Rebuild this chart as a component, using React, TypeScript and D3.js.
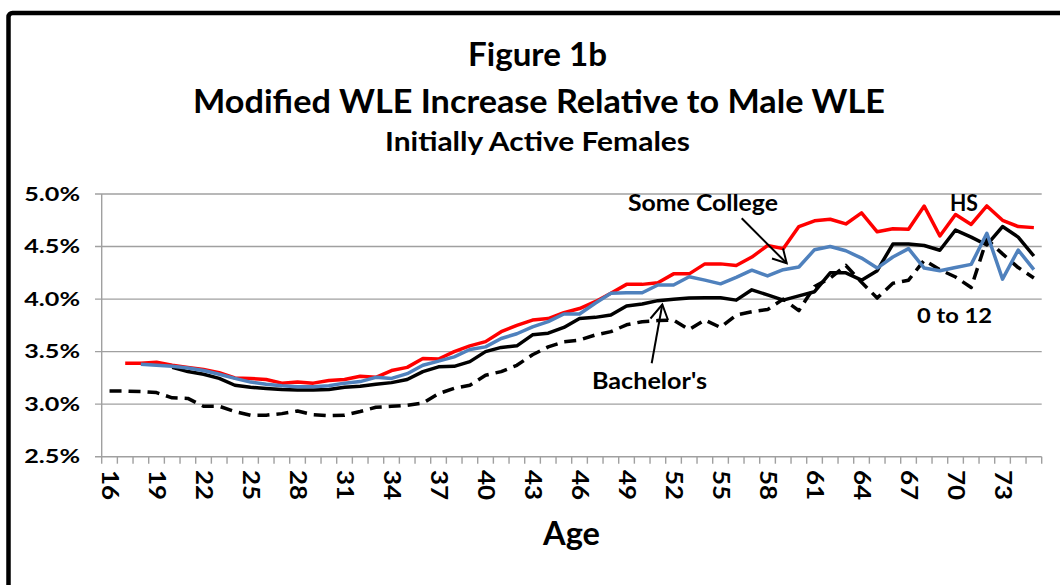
import React from 'react';
import * as d3 from 'd3';

// ages 16..75, one category each
const ages = [
  16, 17, 18, 19, 20, 21, 22, 23, 24, 25, 26, 27, 28, 29, 30, 31, 32, 33, 34, 35,
  36, 37, 38, 39, 40, 41, 42, 43, 44, 45, 46, 47, 48, 49, 50, 51, 52, 53, 54, 55,
  56, 57, 58, 59, 60, 61, 62, 63, 64, 65, 66, 67, 68, 69, 70, 71, 72, 73, 74, 75,
];

// percent values, null where the series has no point
const hsValues = [
  null, 3.39, 3.39, 3.40, 3.37, 3.35, 3.33, 3.30, 3.25, 3.245, 3.235, 3.20, 3.21, 3.20, 3.225, 3.235, 3.265, 3.255, 3.32, 3.35,
  3.435, 3.43, 3.50, 3.555, 3.595, 3.69, 3.75, 3.80, 3.815, 3.87, 3.91, 3.975, 4.055, 4.14, 4.14, 4.155, 4.24, 4.24, 4.335, 4.335,
  4.32, 4.40, 4.51, 4.48, 4.69, 4.745, 4.76, 4.715, 4.82, 4.64, 4.67, 4.665, 4.885, 4.60, 4.805, 4.71, 4.886, 4.75, 4.69, 4.68,
];

const someCollegeValues = [
  null, null, 3.38, 3.37, 3.36, 3.345, 3.32, 3.285, 3.245, 3.21, 3.19, 3.175, 3.165, 3.165, 3.175, 3.20, 3.215, 3.255, 3.245, 3.29,
  3.37, 3.41, 3.45, 3.52, 3.545, 3.625, 3.67, 3.735, 3.785, 3.858, 3.858, 3.96, 4.055, 4.06, 4.06, 4.134, 4.134, 4.213, 4.18, 4.145,
  4.207, 4.275, 4.22, 4.28, 4.305, 4.47, 4.50, 4.46, 4.39, 4.295, 4.40, 4.48, 4.295, 4.27, 4.30, 4.33, 4.626, 4.19, 4.467, 4.28,
];

const bachelorsValues = [
  null, null, null, null, 3.35, 3.31, 3.285, 3.245, 3.18, 3.16, 3.15, 3.14, 3.135, 3.135, 3.14, 3.16, 3.17, 3.19, 3.205, 3.235,
  3.31, 3.355, 3.36, 3.405, 3.50, 3.54, 3.555, 3.66, 3.675, 3.73, 3.815, 3.826, 3.848, 3.934, 3.953, 3.985, 3.998, 4.01, 4.012, 4.012,
  3.99, 4.088, 4.04, 3.99, 4.03, 4.07, 4.25, 4.25, 4.18, 4.27, 4.524, 4.525, 4.51, 4.465, 4.657, 4.59, 4.515, 4.69, 4.59, 4.41,
];

const zeroTo12Values = [
  3.125, 3.125, 3.12, 3.11, 3.06, 3.055, 2.98, 2.98, 2.93, 2.895, 2.895, 2.91, 2.935, 2.90, 2.89, 2.895, 2.93, 2.97, 2.98, 2.99,
  3.01, 3.10, 3.15, 3.18, 3.275, 3.31, 3.37, 3.47, 3.545, 3.594, 3.61, 3.658, 3.69, 3.755, 3.785, 3.795, 3.80, 3.71, 3.80, 3.73,
  3.848, 3.88, 3.90, 4.00, 3.89, 4.12, 4.20, 4.32, 4.16, 4.01, 4.15, 4.18, 4.37, 4.28, 4.21, 4.11, 4.57, 4.43, 4.30, 4.20,
];

const yTicks = [2.5, 3.0, 3.5, 4.0, 4.5, 5.0];
const xTickLabels = [16, 19, 22, 25, 28, 31, 34, 37, 40, 43, 46, 49, 52, 55, 58, 61, 64, 67, 70, 73];

const FONT = "Lato, 'Open Sans', sans-serif";

export default function App() {
  const left = 101.7, right = 1041.7, top = 194, bottom = 456.7;

  const x = d3.scaleBand<number>().domain(ages).range([left, right]);
  const cx = (a: number) => (x(a) as number) + x.bandwidth() / 2;
  const y = d3.scaleLinear().domain([2.5, 5.0]).range([bottom, top]);

  const line = d3.line<number | null>()
    .defined(v => v != null)
    .x((_, i) => cx(ages[i]))
    .y(v => y(v as number));

  const series = [
    { values: zeroTo12Values, color: '#000', dash: '12,7' },
    { values: bachelorsValues, color: '#000', dash: undefined },
    { values: hsValues, color: '#ff0000', dash: undefined },
    { values: someCollegeValues, color: '#4f81bd', dash: undefined },
  ];

  const boundaries = ages.map(a => x(a) as number).concat([right]);

  return (
    <svg width={1060} height={585} style={{ position: 'absolute', left: 0, top: 0, background: '#fff' }}>
      <rect x={8.5} y={13} width={1100} height={700} rx={4} fill="#fff" stroke="#000" strokeWidth={4.5} />

      <g fontFamily={FONT} fontWeight="bold" fill="#000" textAnchor="middle">
        <text x={537.5} y={66} fontSize={32} textLength={139} lengthAdjust="spacingAndGlyphs">Figure 1b</text>
        <text x={539} y={113} fontSize={32} textLength={692} lengthAdjust="spacingAndGlyphs">Modified WLE Increase Relative to Male WLE</text>
        <text x={537.5} y={151} fontSize={26} textLength={305} lengthAdjust="spacingAndGlyphs">Initially Active Females</text>
        <text x={571.5} y={545} fontSize={33} textLength={57} lengthAdjust="spacingAndGlyphs">Age</text>
      </g>

      {/* gridlines + y ticks */}
      {yTicks.map(t => (
        <line key={t} x1={95} x2={right} y1={y(t)} y2={y(t)} stroke="#a0a0a0" strokeWidth={1.4} />
      ))}
      <line x1={left} x2={left} y1={top} y2={bottom} stroke="#a0a0a0" strokeWidth={1.4} />
      {boundaries.map((b, i) => (
        <line key={i} x1={b} x2={b} y1={bottom} y2={bottom + 7} stroke="#a0a0a0" strokeWidth={1.4} />
      ))}

      <g fontFamily={FONT} fontWeight="bold" fontSize={18.5} fill="#000">
        {yTicks.map(t => (
          <text key={t} textAnchor="end" transform={`translate(80,${y(t) + 6.6}) scale(1.36,1)`}>
            {t.toFixed(1)}%
          </text>
        ))}
        {xTickLabels.map(a => (
          <text key={a} fontSize={22} dy="0.36em" transform={`translate(${cx(a)},470) rotate(90) scale(1.18,1)`}>
            {a}
          </text>
        ))}
      </g>

      {series.map((s, i) => (
        <path key={i} d={line(s.values) || ''} fill="none" stroke={s.color} strokeWidth={3.5}
          strokeDasharray={s.dash} strokeLinejoin="round" />
      ))}

      {/* callouts */}
      <g stroke="#000" strokeWidth={2} fill="none">
        <line x1={741.7} y1={218.3} x2={786.7} y2={263.3} />
        <polyline points="772,258.5 786.7,263.3 783,248.5" />
        <line x1={651.7} y1={363.3} x2={662.3} y2={304.5} />
        <polyline points="650.5,318.5 662.3,304.5 668,320" />
      </g>
      <g fontFamily={FONT} fontWeight="bold" fontSize={22} fill="#000">
        <text x={628} y={211} textLength={150} lengthAdjust="spacingAndGlyphs">Some College</text>
        <text x={950} y={211} textLength={28} lengthAdjust="spacingAndGlyphs">HS</text>
        <text x={592} y={389} textLength={115} lengthAdjust="spacingAndGlyphs">Bachelor's</text>
        <text x={917} y={323} fontSize={21} textLength={75} lengthAdjust="spacingAndGlyphs">0 to 12</text>
      </g>
    </svg>
  );
}
